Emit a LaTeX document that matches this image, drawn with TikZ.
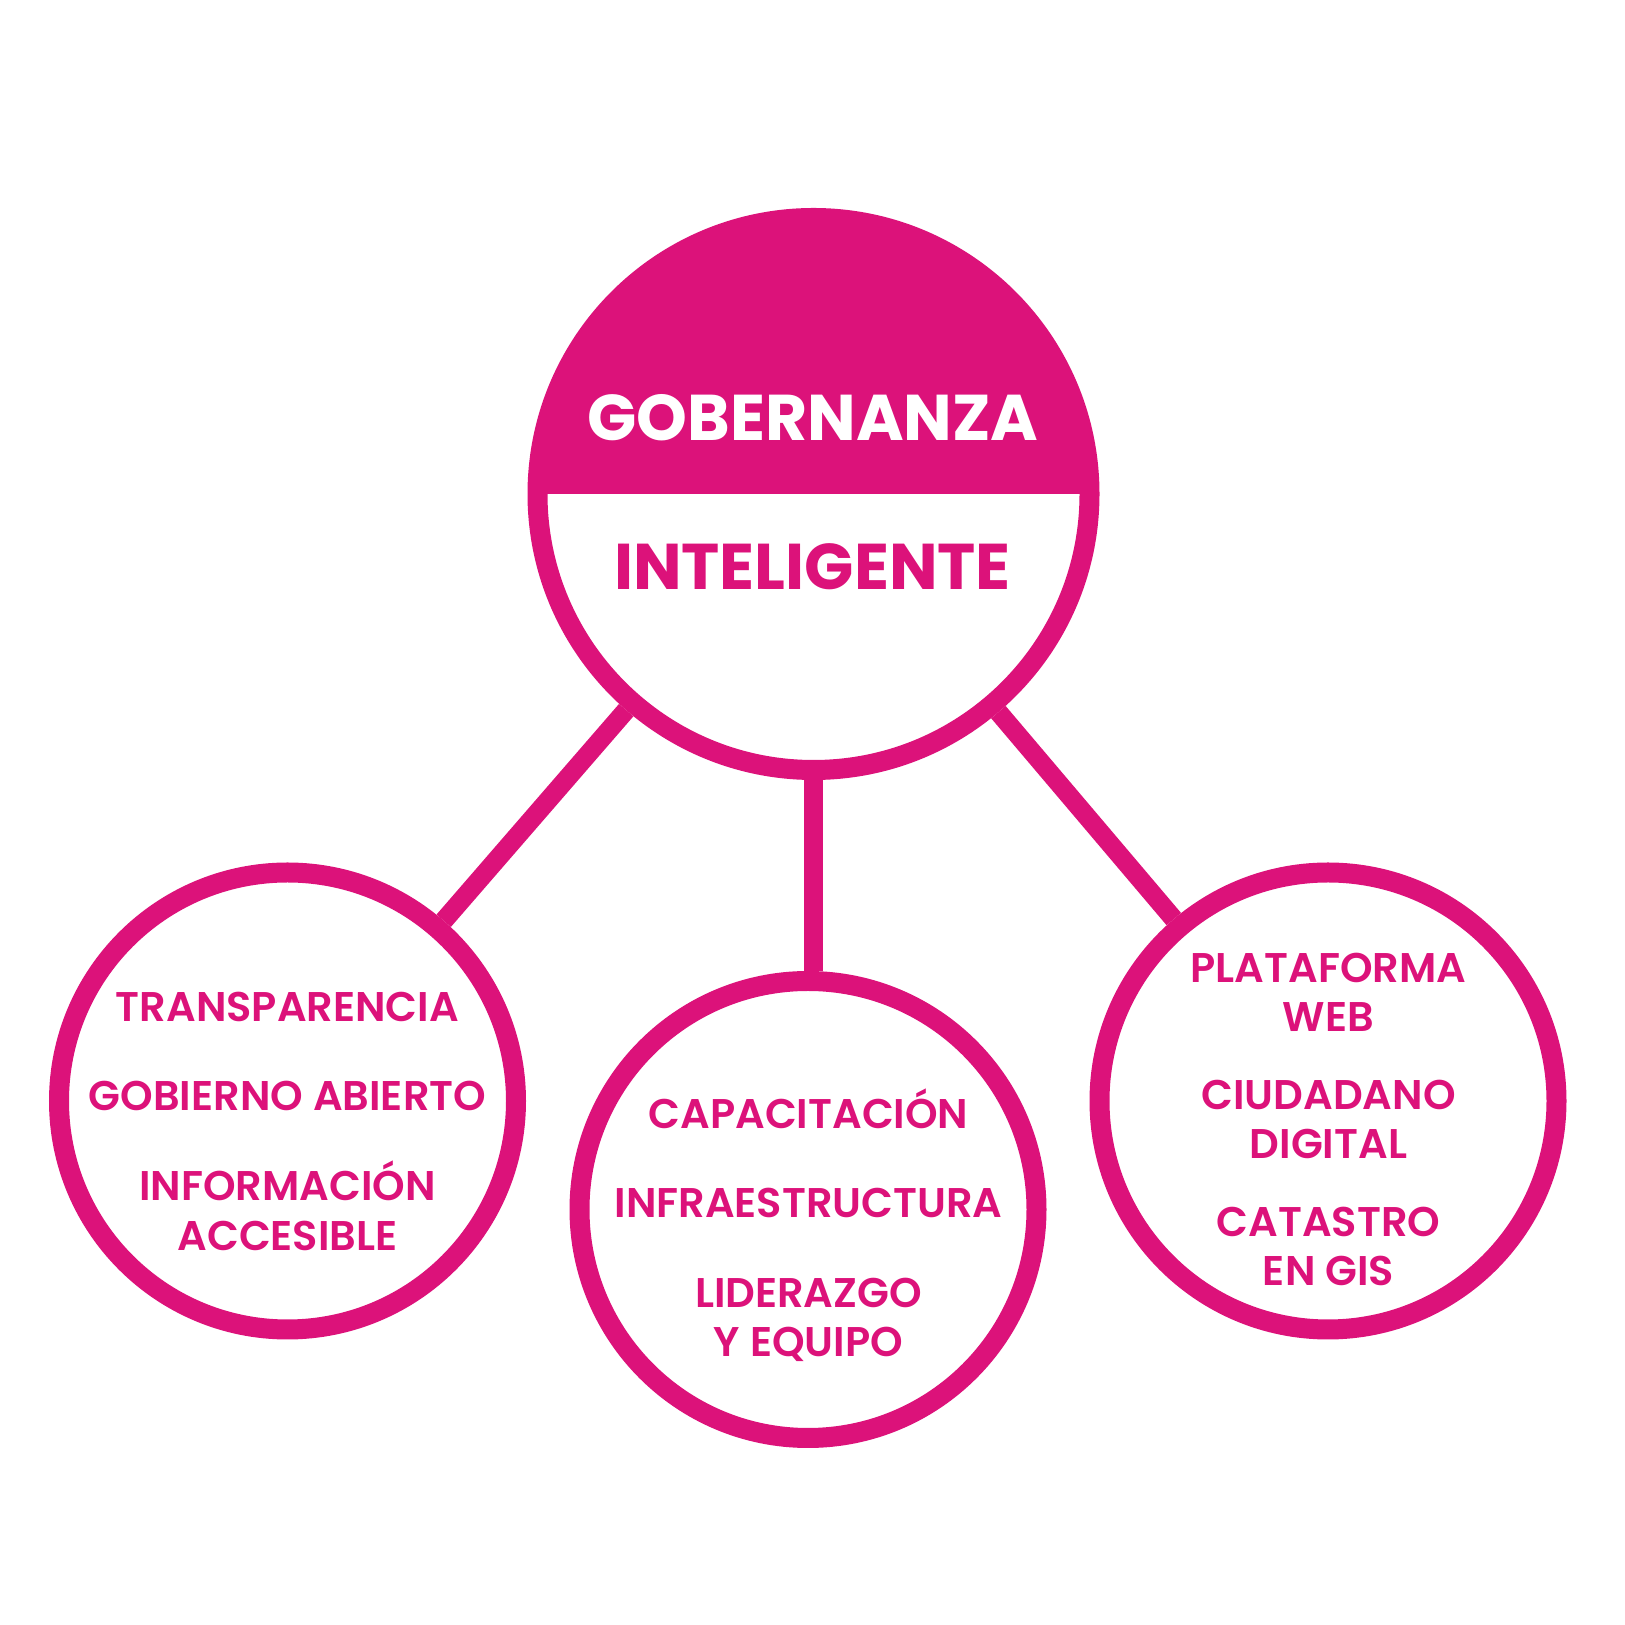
\documentclass[tikz,border=0pt]{standalone}
\usepackage{fontspec}
\setmainfont{Poppins}
\IfFontExistsTF{Poppins SemiBold}
    {\newfontfamily\itemfont{Poppins SemiBold}}
    {\newfontfamily\itemfont{Poppins}[UprightFont=*-Bold]}
\usetikzlibrary{positioning}
\definecolor{colorG}{HTML}{DC127A}

\tikzset{
    ring/.style={circle, draw=colorG, line width=0.2cm, inner sep=0pt},
    link/.style={draw=colorG, line width=0.19cm},
    bigtext/.style={font=\fontsize{18.4pt}{22pt}\selectfont\bfseries, inner sep=0pt, anchor=base},
    itemtext/.style={font=\fontsize{11.8pt}{14.2pt}\itemfont, text=colorG, inner sep=0pt, anchor=base, align=center}
}

\begin{document}
\begin{tikzpicture}
        \useasboundingbox (0,0) rectangle (16.25,16.25);

        \fill[colorG] (8.135+2.76,11.31) arc[start angle=0, end angle=180, radius=2.76] -- cycle;
        \node[ring, minimum size=5.52cm] (main) at (8.135,11.31) {};
        \node[ring, minimum size=4.57cm] (left) at (2.875,5.24) {};
        \node[ring, minimum size=4.57cm] (mid) at (8.08,4.155) {};
        \node[ring, minimum size=4.57cm] (right) at (13.28,5.24) {};

        \draw[link] (main) -- (left);
        \draw[link] (main.south) -- (main.south |- mid.north);
        \draw[link] (main) -- (right);

        \node[bigtext, text=white] (gob) at (8.13,11.843) {GOBERNANZA};
        \node[bigtext, text=colorG] (intel) at (8.125,10.35) {INTELIGENTE};

        \begin{scope}[xshift=2.875cm]
            \node[itemtext] (trans) at (0,6.03) {TRANSPARENCIA};
            \node[itemtext] (gobab) at (0,5.14) {GOBIERNO ABIERTO};
            \node[itemtext] (info) at (0,3.745) {INFORMACIÓN\\ACCESIBLE};
        \end{scope}

        \begin{scope}[xshift=8.085cm]
            \node[itemtext] (capa) at (0,4.96) {CAPACITACIÓN};
            \node[itemtext] (infra) at (0,4.07) {INFRAESTRUCTURA};
            \node[itemtext] (lider) at (0,2.68) {LIDERAZGO\\Y EQUIPO};
        \end{scope}

        \begin{scope}[xshift=13.285cm]
            \node[itemtext] (plat) at (0,5.93) {PLATAFORMA\\WEB};
            \node[itemtext] (ciud) at (0,4.66) {CIUDADANO\\DIGITAL};
            \node[itemtext] (cat) at (0,3.39) {CATASTRO\\EN GIS};
        \end{scope}
    \end{tikzpicture}
\end{document}
